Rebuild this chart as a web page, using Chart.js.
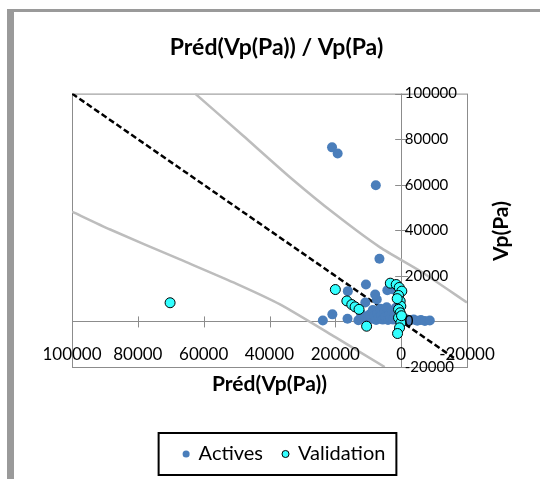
<!DOCTYPE html>
<html>
<head>
<meta charset="utf-8">
<script src="https://cdn.jsdelivr.net/npm/chart.js@4/dist/chart.umd.min.js"></script>
<style>
  html, body { margin: 0; padding: 0; background: #fff; }
  #wrap { position: relative; width: 540px; height: 479px; overflow: hidden; }
  #frame { position: absolute; left: 7px; top: 9px; width: 560px; height: 500px;
           border-top: 3px solid #9a9a9a; border-left: 7px solid #9a9a9a; }
  #chart { position: absolute; left: 0; top: 0; }
</style>
</head>
<body>
<div id="wrap">
  <div id="frame"></div>
  <canvas id="chart" width="540" height="479"></canvas>
</div>
<script>
// Actives
var activesX = [21000, 19300, 7700, 6600, 10700, 16200, 20900, 23800, 16300, 7400, 4200, 2400, 3300, 10900, 7900,
                11500, 10200, 9600, 9000, 8600, 8200, 7600, 7200, 6800, 6300, 6000, 5600, 5200, 4800, 4400, 4000,
                3600, 3200, 2800, 2400, 2000, 1600, 1200, 800, 400, 0, -600, -1500, -2700, -3800, -4900, -6000,
                -7200, -8700, 13000, 12200];
var activesY = [76400, 73700, 59800, 27500, 16200, 13300, 3100, 400, 1200, 9600, 13700, 14000, 15600, 8300, 11800,
                1800, 600, 3000, 1200, 5000, 2400, 600, 3800, 1600, 5600, 2800, 800, 4000, 2000, 6200, 600,
                3000, 1400, 4600, 800, 2600, 6000, 1200, 3400, 400, 2000, 600, 1000, 500, 800, 300, 600,
                200, 400, 500, 3500];

// Validation
var validX = [70200, 20000, 16500, 15000, 14000, 12800, 10500, 3300, 1500, 600, -200, 800, 300, 100, 800,
              300, 800, 100, 500, 1100, 1200, -100];
var validY = [8200, 14000, 9000, 7400, 6400, 5300, -2100, 16800, 16200, 14900, 13300, 11400, 8900, 6700, 5300,
              3800, 1600, -600, -2800, -5300, 10000, 2500];

// y = x reference line
var diagX = [100000, -16000];
var diagY = [100000, -16000];

// prediction bands
var upperX = [62600, 48000, 33700, 20000, 6400, -6000, -20000];
var upperY = [100000, 81500, 63200, 47000, 32500, 21900, 8300];
var lowerX = [100000, 88400, 67200, 50000, 36800, 20000, 5000];
var lowerY = [48200, 40350, 27200, 16500, 7460, -6900, -20000];

// axes
var axisMin = -20000;
var axisMax = 100000;
var axisStep = 20000;

var FONT = 'Lato';

function toPoints(xs, ys) {
    return xs.map(function(x, i) { return {x: x, y: ys[i]}; });
}

// Excel style axes crossing at zero, plot border, legend frame, y title
var excelAxes = {
    id: 'excelAxes',
    afterLayout: function(chart) {
        // title sits a little right of the plot centre
        chart.titleBlock.left += 7;
        chart.titleBlock.right += 7;
    },
    beforeDraw: function(chart) {
        var ctx = chart.ctx, a = chart.chartArea;
        var xs = chart.scales.x, ys = chart.scales.y;
        var x0 = xs.getPixelForValue(0), y0 = ys.getPixelForValue(0);
        ctx.save();
        ctx.strokeStyle = '#8c8c8c';
        ctx.lineWidth = 1;
        ctx.strokeRect(a.left + 0.5, a.top + 0.5, a.right - a.left, a.bottom - a.top);
        ctx.beginPath();
        ctx.moveTo(a.left, Math.round(y0) + 0.5);
        ctx.lineTo(a.right, Math.round(y0) + 0.5);
        ctx.moveTo(Math.round(x0) + 0.5, a.top);
        ctx.lineTo(Math.round(x0) + 0.5, a.bottom);
        xs.ticks.forEach(function(t) {
            var px = Math.round(xs.getPixelForValue(t.value)) + 0.5;
            ctx.moveTo(px, y0 - 5);
            ctx.lineTo(px, y0 + 6);
        });
        ys.ticks.forEach(function(t) {
            var py = Math.round(ys.getPixelForValue(t.value)) + 0.5;
            ctx.moveTo(x0 - 6, py);
            ctx.lineTo(x0 + 7, py);
        });
        ctx.stroke();
        ctx.restore();
    },
    afterDraw: function(chart) {
        var ctx = chart.ctx;
        var boxes = chart.legend.legendHitBoxes;
        ctx.save();
        if (boxes && boxes.length) {
            var first = boxes[0], last = boxes[boxes.length - 1];
            var cy = first.top + first.height / 2;
            var l = first.left - 25;
            var r = last.left + last.width + 11;
            ctx.strokeStyle = '#000';
            ctx.lineWidth = 2;
            ctx.strokeRect(l, cy - 21, r - l, 42);
        }
        ctx.fillStyle = '#000';
        ctx.font = 'bold 21px ' + FONT;
        ctx.textAlign = 'center';
        ctx.textBaseline = 'middle';
        ctx.translate(501, 231);
        ctx.rotate(-Math.PI / 2);
        ctx.fillText('Vp(Pa)', 0, 0);
        ctx.restore();
    }
};

var chart = new Chart(document.getElementById('chart'), {
    type: 'scatter',
    data: {
        datasets: [{
            label: 'Actives',
            data: toPoints(activesX, activesY),
            backgroundColor: '#4a7ebb',
            borderColor: '#4a7ebb',
            borderWidth: 0,
            pointRadius: 5,
            pointStyle: 'circle',
            order: 1
        }, {
            label: 'Validation',
            data: toPoints(validX, validY),
            backgroundColor: '#33ffff',
            borderColor: '#000',
            borderWidth: 1,
            pointRadius: 5,
            pointStyle: 'circle',
            order: 0
        }, {
            label: 'y=x',
            data: toPoints(diagX, diagY),
            showLine: true,
            borderColor: '#000',
            borderWidth: 2.5,
            borderDash: [6, 3],
            pointRadius: 0,
            order: 2
        }, {
            label: 'upper',
            data: toPoints(upperX, upperY),
            showLine: true,
            borderColor: '#bdbdbd',
            borderWidth: 2.5,
            tension: 0.2,
            pointRadius: 0,
            order: 3
        }, {
            label: 'lower',
            data: toPoints(lowerX, lowerY),
            showLine: true,
            borderColor: '#bdbdbd',
            borderWidth: 2.5,
            tension: 0.2,
            pointRadius: 0,
            order: 3
        }]
    },
    options: {
        responsive: false,
        animation: false,
        devicePixelRatio: 1,
        layout: { padding: { left: 72, right: 43, top: 0, bottom: 5 } },
        scales: {
            x: {
                type: 'linear',
                position: 'bottom',
                reverse: true,
                min: axisMin,
                max: axisMax,
                grid: { display: false, drawTicks: false },
                border: { display: false },
                ticks: {
                    z: 1,
                    stepSize: axisStep,
                    mirror: true,
                    padding: 2,
                    maxRotation: 0,
                    autoSkip: false,
                    color: '#000',
                    font: { family: FONT, size: 17 },
                    callback: function(v) { return String(v); }
                },
                title: {
                    display: true,
                    text: 'Préd(Vp(Pa))',
                    color: '#000',
                    font: { family: FONT, size: 21, weight: 'bold' },
                    padding: { top: 0, bottom: 27 }
                },
                afterFit: function(scale) { scale.height = 57; }
            },
            y: {
                type: 'linear',
                position: 'right',
                min: axisMin,
                max: axisMax,
                grid: { display: false, drawTicks: false },
                border: { display: false },
                ticks: {
                    z: 1,
                    stepSize: axisStep,
                    mirror: true,
                    crossAlign: 'far',
                    padding: -10,
                    autoSkip: false,
                    color: '#000',
                    font: { family: FONT, size: 15 },
                    callback: function(v) { return String(v); }
                },
                afterFit: function(scale) { scale.width = 30; }
            }
        },
        plugins: {
            title: {
                display: true,
                fullSize: false,
                text: 'Préd(Vp(Pa)) / Vp(Pa)',
                color: '#000',
                font: { family: FONT, size: 23, weight: 'bold' },
                padding: { top: 34, bottom: 32 }
            },
            legend: {
                position: 'bottom',
                labels: {
                    usePointStyle: true,
                    boxWidth: 5,
                    boxHeight: 5,
                    padding: 20,
                    color: '#000',
                    font: { family: FONT, size: 20 },
                    filter: function(item) { return item.datasetIndex < 2; },
                    sort: function(a, b) { return a.datasetIndex - b.datasetIndex; }
                }
            },
            tooltip: { enabled: false }
        }
    },
    plugins: [excelAxes]
});
</script>
</body>
</html>
